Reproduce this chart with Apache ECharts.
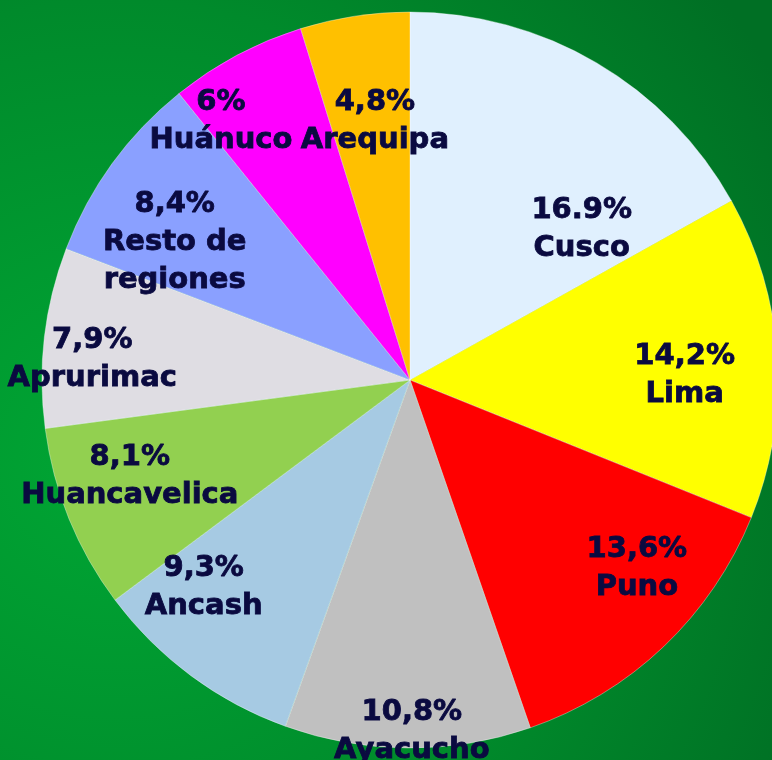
<!DOCTYPE html>
<html>
<head>
<meta charset="utf-8">
<script src="https://cdn.jsdelivr.net/npm/echarts@6/dist/echarts.min.js"></script>
<style>
  html, body { margin: 0; padding: 0; }
  #chart { width: 772px; height: 760px; }
</style>
</head>
<body>
<div id="chart"></div>
<script>
// data
var regions = ['Cusco', 'Lima', 'Puno', 'Ayacucho', 'Ancash', 'Huancavelica', 'Aprurimac', 'Resto de\nregiones', 'Huánuco', 'Arequipa'];
var shares = [16.9, 14.2, 13.6, 10.8, 9.3, 8.1, 7.9, 8.4, 6, 4.8];
var shareText = ['16.9%', '14,2%', '13,6%', '10,8%', '9,3%', '8,1%', '7,9%', '8,4%', '6%', '4,8%'];

var colors = ['#e0f0fe', '#ffff00', '#ff0000', '#c0c0c0', '#a6cae3', '#92d050', '#dfdde3', '#8aa0ff', '#ff00ff', '#ffc000'];
// nudges from the default inside label spot
var labelNudge = [[77, 11], [88, 7], [98, 53], [3, 164], [-95, 57], [-107, 26], [-132, 1], [-84, -28], [-101, -94], [-7, -74]];

var myChart = echarts.init(document.getElementById('chart'));

var option = {
    backgroundColor: {
        type: 'radial', x: 0.15, y: 0.6, r: 1.0,
        colorStops: [
            { offset: 0, color: '#00a634' },
            { offset: 0.6, color: '#008a2b' },
            { offset: 1, color: '#006f24' }
        ]
    },
    animation: false,
    series: [{
        type: 'pie',
        center: [410, 380],
        radius: 368,
        startAngle: 90,
        clockwise: true,
        label: {
            position: 'inside',
            color: '#0a0a40',
            fontFamily: 'DejaVu Sans',
            fontWeight: 'bold',
            fontSize: 29,
            lineHeight: 38,
            align: 'center',
            textBorderColor: '#0a0a40',
            textBorderWidth: 0.8,
            formatter: function (p) {
                return shareText[p.dataIndex] + '\n' + p.name;
            }
        },
        labelLine: { show: false },
        itemStyle: { borderColor: 'rgba(255,255,255,0.7)', borderWidth: 0.5 },
        emphasis: { disabled: true },
        data: regions.map(function (r, i) {
            return {
                name: r,
                value: shares[i],
                itemStyle: { color: colors[i] },
                label: { offset: labelNudge[i] }
            };
        })
    }]
};

myChart.setOption(option);
</script>
</body>
</html>
